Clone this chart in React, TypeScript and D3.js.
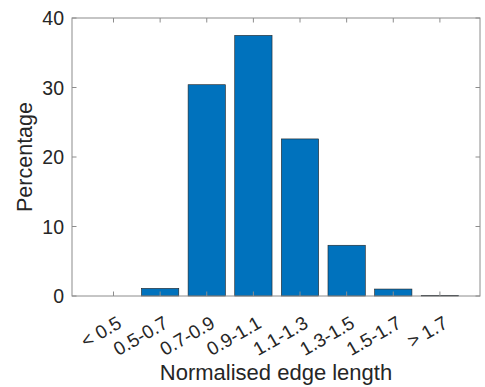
import React from "react";
import * as d3 from "d3";

const categories = ["< 0.5", "0.5-0.7", "0.7-0.9", "0.9-1.1", "1.1-1.3", "1.3-1.5", "1.5-1.7", "> 1.7"];
const percentages = [0, 1.1, 30.4, 37.5, 22.6, 7.3, 1.0, 0.1];
const yTicks = [0, 10, 20, 30, 40];
const xLabel = "Normalised edge length";
const yLabel = "Percentage";

const W = 485;
const H = 387;
const left = 72;
const right = 480;
const top = 18;
const bottom = 296;

export default function App() {
  const n = categories.length;
  // MATLAB-like x limits around category indices 1..n
  const x = d3.scaleLinear().domain([0.11, n + 0.86]).range([left, right]);
  const y = d3.scaleLinear().domain([0, 40]).range([bottom, top]);
  const barW = (x(1.4) - x(0.6));
  const axisColor = "#262626";
  const font = "'Liberation Sans', Arial, Helvetica, sans-serif";
  const tickLen = 4.5;

  return (
    <svg
      width={W}
      height={H}
      style={{ position: "absolute", left: 0, top: 0, background: "#fff" }}
      fontFamily={font}
    >
      <rect x={0} y={0} width={W} height={H} fill="#fff" />
      {percentages.map((v, i) => {
        const cx = x(i + 1);
        const y0 = y(0);
        const y1 = y(v);
        return (
          <rect
            key={i}
            x={cx - barW / 2}
            y={Math.min(y0, y1)}
            width={barW}
            height={Math.abs(y0 - y1)}
            fill="#0072BD"
            stroke="#222"
            strokeWidth={0.6}
          />
        );
      })}
      {/* box */}
      <rect
        x={left}
        y={top}
        width={right - left}
        height={bottom - top}
        fill="none"
        stroke="#8c8c8c"
        strokeWidth={1}
      />
      {/* x ticks */}
      {categories.map((c, i) => {
        const cx = x(i + 1);
        return (
          <g key={c}>
            <line x1={cx} x2={cx} y1={bottom} y2={bottom - tickLen} stroke="#8c8c8c" strokeWidth={1} />
            <line x1={cx} x2={cx} y1={top} y2={top + tickLen} stroke="#8c8c8c" strokeWidth={1} />
            <text
              transform={`translate(${cx + 6},${bottom + 25}) rotate(-30)`}
              textAnchor="end"
              dy="0.35em"
              fontSize={19}
              fill={axisColor}
            >
              {c}
            </text>
          </g>
        );
      })}
      {/* y ticks */}
      {yTicks.map((t) => (
        <g key={t}>
          <line x1={left} x2={left + tickLen} y1={y(t)} y2={y(t)} stroke="#8c8c8c" strokeWidth={1} />
          <line x1={right} x2={right - tickLen} y1={y(t)} y2={y(t)} stroke="#8c8c8c" strokeWidth={1} />
          <text x={left - 8} y={y(t)} dy="0.36em" textAnchor="end" fontSize={19.5} fill={axisColor}>
            {t}
          </text>
        </g>
      ))}
      <text x={(left + right) / 2} y={380} textAnchor="middle" fontSize={22} fill={axisColor}>
        {xLabel}
      </text>
      <text
        transform={`translate(32,${(top + bottom) / 2}) rotate(-90)`}
        textAnchor="middle"
        fontSize={21.5}
        fill={axisColor}
      >
        {yLabel}
      </text>
    </svg>
  );
}
